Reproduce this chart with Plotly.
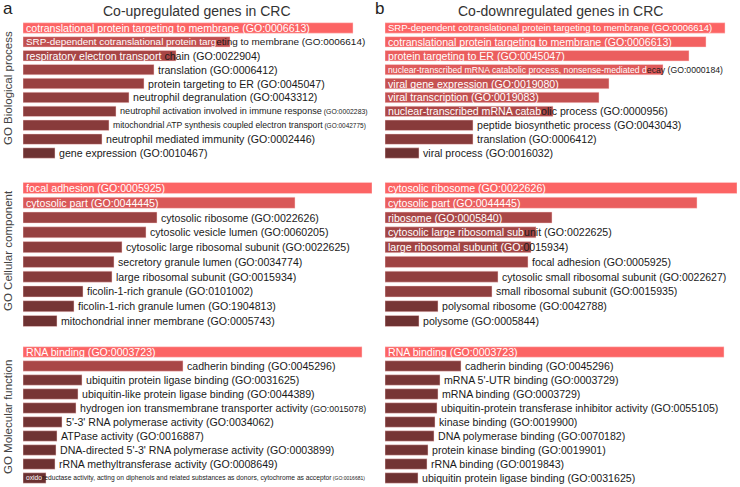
import plotly.graph_objects as go

# ---- data: GO enrichment terms and combined scores ----
bp_up_terms = [
    "cotranslational protein targeting to membrane (GO:0006613)",
    "SRP-dependent cotranslational protein targeting to membrane (GO:0006614)",
    "respiratory electron transport chain (GO:0022904)",
    "translation (GO:0006412)",
    "protein targeting to ER (GO:0045047)",
    "neutrophil degranulation (GO:0043312)",
    "neutrophil activation involved in immune response (GO:0002283)",
    "mitochondrial ATP synthesis coupled electron transport (GO:0042775)",
    "neutrophil mediated immunity (GO:0002446)",
    "gene expression (GO:0010467)",
]
bp_up_scores = [330, 207, 153, 131, 121, 106, 93, 86, 79, 32]

cc_up_terms = [
    "focal adhesion (GO:0005925)",
    "cytosolic part (GO:0044445)",
    "cytosolic ribosome (GO:0022626)",
    "cytosolic vesicle lumen (GO:0060205)",
    "cytosolic large ribosomal subunit (GO:0022625)",
    "secretory granule lumen (GO:0034774)",
    "large ribosomal subunit (GO:0015934)",
    "ficolin-1-rich granule (GO:0101002)",
    "ficolin-1-rich granule lumen (GO:1904813)",
    "mitochondrial inner membrane (GO:0005743)",
]
cc_up_scores = [349, 272, 134, 123, 99, 91, 89, 60, 51, 34]

mf_up_terms = [
    "RNA binding (GO:0003723)",
    "cadherin binding (GO:0045296)",
    "ubiquitin protein ligase binding (GO:0031625)",
    "ubiquitin-like protein ligase binding (GO:0044389)",
    "hydrogen ion transmembrane transporter activity (GO:0015078)",
    "5'-3' RNA polymerase activity (GO:0034062)",
    "ATPase activity (GO:0016887)",
    "DNA-directed 5'-3' RNA polymerase activity (GO:0003899)",
    "rRNA methyltransferase activity (GO:0008649)",
    "oxidoreductase activity, acting on diphenols and related substances as donors, cytochrome as acceptor (GO:0016681)",
]
mf_up_scores = [339, 160, 59, 55, 53, 39, 34, 33, 32, 23]

bp_down_terms = [
    "SRP-dependent cotranslational protein targeting to membrane (GO:0006614)",
    "cotranslational protein targeting to membrane (GO:0006613)",
    "protein targeting to ER (GO:0045047)",
    "nuclear-transcribed mRNA catabolic process, nonsense-mediated decay (GO:0000184)",
    "viral gene expression (GO:0019080)",
    "viral transcription (GO:0019083)",
    "nuclear-transcribed mRNA catabolic process (GO:0000956)",
    "peptide biosynthetic process (GO:0043043)",
    "translation (GO:0006412)",
    "viral process (GO:0016032)",
]
bp_down_scores = [340, 321, 304, 278, 224, 214, 168, 88, 88, 34]

cc_down_terms = [
    "cytosolic ribosome (GO:0022626)",
    "cytosolic part (GO:0044445)",
    "ribosome (GO:0005840)",
    "cytosolic large ribosomal subunit (GO:0022625)",
    "large ribosomal subunit (GO:0015934)",
    "focal adhesion (GO:0005925)",
    "cytosolic small ribosomal subunit (GO:0022627)",
    "small ribosomal subunit (GO:0015935)",
    "polysomal ribosome (GO:0042788)",
    "polysome (GO:0005844)",
]
cc_down_scores = [352, 312, 167, 151, 146, 143, 113, 107, 53, 34]

mf_down_terms = [
    "RNA binding (GO:0003723)",
    "cadherin binding (GO:0045296)",
    "mRNA 5'-UTR binding (GO:0003729)",
    "mRNA binding (GO:0003729)",
    "ubiquitin-protein transferase inhibitor activity (GO:0055105)",
    "kinase binding (GO:0019900)",
    "DNA polymerase binding (GO:0070182)",
    "protein kinase binding (GO:0019901)",
    "rRNA binding (GO:0019843)",
    "ubiquitin protein ligase binding (GO:0031625)",
]
mf_down_scores = [339, 76, 55, 53, 52, 50, 49, 43, 42, 33]

column_titles = ["Co-upregulated genes in CRC", "Co-downregulated genes in CRC"]
column_letters = ["a", "b"]
row_titles = ["GO Biological process", "GO Cellular component", "GO Molecular function"]

# ---- layout (pixels of the 740x487 page) ----
W, H = 740, 487
COL_PX = [(23, 372), (385, 737)]       # bar area left/right per column
TEXT_LIMIT = [376, 734]                # labels may run up to here
ROW_PX = [(21, 160), (180.6, 328.4), (345, 485)]
BASE_SIZE = 10.6
GO_MIN = 7.0
RENDER_FUDGE = 1.03                    # browser text comes out a bit wider than the metrics
FONT = "Arial, Liberation Sans, sans-serif"

# panels: (terms, scores, row, col, number of labels drawn inside the bar)
panels = [
    (bp_up_terms, bp_up_scores, 0, 0, 3),
    (bp_down_terms, bp_down_scores, 0, 1, 7),
    (cc_up_terms, cc_up_scores, 1, 0, 2),
    (cc_down_terms, cc_down_scores, 1, 1, 5),
    (mf_up_terms, mf_up_scores, 2, 0, 1),
    (mf_down_terms, mf_down_scores, 2, 1, 1),
]

# Arial / Liberation Sans advance widths (1/1000 em)
ARIAL = {" ": 278, "(": 333, ")": 333, "-": 333, ".": 278, ",": 278, ":": 278, "'": 191, "/": 278}
ARIAL.update({d: 556 for d in "0123456789"})
ARIAL.update(dict(zip("ABCDEFGHIJKLMNOPQRSTUVWXYZ",
                      [667, 667, 722, 722, 667, 611, 778, 722, 278, 500, 667, 556, 833,
                       722, 778, 667, 778, 722, 667, 611, 722, 667, 944, 667, 667, 611])))
ARIAL.update(dict(zip("abcdefghijklmnopqrstuvwxyz",
                      [556, 556, 500, 556, 556, 278, 556, 556, 222, 222, 500, 222, 833,
                       556, 556, 556, 556, 333, 500, 278, 556, 500, 722, 500, 500, 500])))


def em_width(s):
    return sum(ARIAL.get(c, 556) for c in s) / 1000.0 * RENDER_FUDGE


def bar_colour(t):
    lo, hi = (95, 45, 45), (252, 100, 100)
    r, g, b = (round(lo[k] + t * (hi[k] - lo[k])) for k in range(3))
    return f"rgb({r},{g},{b})"


def label_sizes(term, avail, shrink_go):
    """Return (name, go, name_size, go_size) so the label fits in avail px."""
    cut = term.rfind(" (GO:")
    name, go_part = term[:cut], term[cut:]
    ne, ge = em_width(name), em_width(go_part)
    if (ne + ge) * BASE_SIZE <= avail:
        return name, go_part, BASE_SIZE, BASE_SIZE
    if not shrink_go:
        s = avail / (ne + ge)
        return name, go_part, s, s
    s_go = (avail - ne * BASE_SIZE) / ge
    if s_go >= GO_MIN:
        return name, go_part, BASE_SIZE, s_go
    s = avail / (ne + 0.75 * ge)
    return name, go_part, min(BASE_SIZE, s), min(BASE_SIZE, s) * 0.75


def span(txt, size, white):
    style = f"font-size:{size:.2f}px"
    if white:
        style += ";color:white"
    return f'<span style="{style}">{txt}</span>'


fig = go.Figure()
annotations = []
layout_axes = {}

for i, (terms, scores, row, col, n_inside) in enumerate(panels):
    n = i + 1
    xname = "xaxis" if n == 1 else f"xaxis{n}"
    yname = "yaxis" if n == 1 else f"yaxis{n}"
    xref = "x" if n == 1 else f"x{n}"
    yref = "y" if n == 1 else f"y{n}"

    x0, x1 = COL_PX[col]
    col_max = max(max(p[1]) for p in panels if p[3] == col)
    px_per_unit = (x1 - x0) / col_max
    top, bot = ROW_PX[row]
    smax = max(scores)

    fig.add_trace(go.Bar(
        x=scores,
        y=terms,
        orientation="h",
        xaxis=xref,
        yaxis=yref,
        marker=dict(
            color=[bar_colour(v / smax) for v in scores],
            line=dict(color="rgba(255,215,215,0.6)", width=0.8)
        ),
        hovertemplate="%{y}<br>score %{x}<extra></extra>",
        showlegend=False,
    ))

    layout_axes[xname] = dict(domain=[x0 / W, x1 / W], range=[0, col_max], visible=False,
                              anchor=yref, fixedrange=True)
    layout_axes[yname] = dict(domain=[1 - bot / H, 1 - top / H], range=[len(terms) - 0.5, -0.5],
                              visible=False, anchor=xref, type="category", fixedrange=True)

    limit = TEXT_LIMIT[col]
    for k, (term, v) in enumerate(zip(terms, scores)):
        bar_len = v * px_per_unit
        out_avail = limit - (x0 + bar_len + 5)
        name, go_part, s_name, s_go = label_sizes(term, out_avail, True)
        inside = k < n_inside or s_name < 7.5
        if inside:
            avail = limit - (x0 + 3)
            # a label that would just barely spill past a long bar is kept on the bar
            if 0.85 * avail < bar_len - 6 < avail:
                avail = bar_len - 6
            name, go_part, s_name, s_go = label_sizes(term, avail, k >= n_inside)
            # characters lying fully over the bar are drawn white
            chars = [(c, s_name) for c in name] + [(c, s_go) for c in go_part]
            pos, cut = 3.0, len(chars)
            for j, (c, s) in enumerate(chars):
                w = ARIAL.get(c, 556) / 1000.0 * s * RENDER_FUDGE
                if pos + w > bar_len - 3:
                    cut = j
                    break
                pos += w
            pieces = []
            for j0, j1, white in ((0, cut, True), (cut, len(chars), False)):
                nm = "".join(c for c, _ in chars[j0:j1][:max(0, len(name) - j0)])
                gp = "".join(c for c, _ in chars[max(j0, len(name)):j1])
                if nm:
                    pieces.append(span(nm, s_name, white))
                if gp:
                    pieces.append(span(gp, s_go, white))
            text = "".join(pieces)
            ax, xshift = 0, 3
        else:
            text = span(name, s_name, False) + span(go_part, s_go, False)
            ax, xshift = v, 4
        annotations.append(dict(
            x=ax, y=term, xref=xref, yref=yref, xanchor="left", yanchor="middle",
            xshift=xshift, text=text, showarrow=False, borderpad=0, borderwidth=0,
            font=dict(family=FONT, size=s_name, color="#1a1a1a")
        ))

# column titles and panel letters
for col in range(2):
    x0, x1 = COL_PX[col]
    annotations.append(dict(
        x=(x0 + x1 - 2) / 2 / W, y=1 - 11 / H, xref="paper", yref="paper",
        text=column_titles[col], showarrow=False, xanchor="center", yanchor="middle",
        font=dict(family=FONT, size=14, color="#333333")
    ))
    annotations.append(dict(
        x=(1 if col == 0 else 373) / W, y=1 - 9 / H, xref="paper", yref="paper",
        text=column_letters[col], showarrow=False, xanchor="left", yanchor="middle",
        font=dict(family=FONT, size=17, color="#222222")
    ))

# row titles
row_centres = [88, 251, 417]
for r in range(3):
    annotations.append(dict(
        x=8 / W, y=1 - row_centres[r] / H, xref="paper", yref="paper",
        text=row_titles[r], showarrow=False, textangle=-90,
        xanchor="center", yanchor="middle",
        font=dict(family=FONT, size=11.5, color="#444444")
    ))

fig.update_layout(
    width=W,
    height=H,
    margin=dict(l=0, r=0, t=0, b=0),
    paper_bgcolor="white",
    plot_bgcolor="white",
    bargap=0.25,
    annotations=annotations,
    **layout_axes
)

# page body margin would push the figure off the 740x487 window
fig.write_html(
    "out.html",
    config={"displayModeBar": False},
    post_script="document.body.style.margin='0';document.body.style.overflow='hidden';"
)
